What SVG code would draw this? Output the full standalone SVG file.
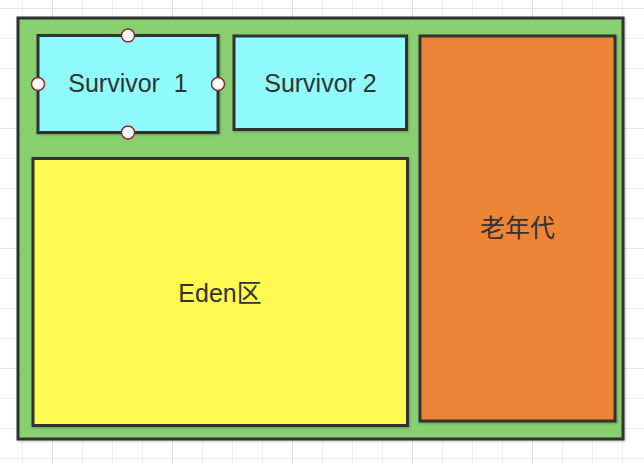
<svg xmlns="http://www.w3.org/2000/svg" width="644" height="464" viewBox="0 0 644 464">
  <defs>
    <style>
      .minor { stroke: #efefef; stroke-width: 1; }
      .major { stroke: #e2e2e2; stroke-width: 1; }
      .box { stroke: #333333; stroke-width: 3; filter: url(#shadow); }
      .label { font-family: "Liberation Sans", "Noto Sans CJK SC", sans-serif; font-size: 25px; fill: #333333; text-anchor: middle; white-space: pre; }
      .cp { fill: #ffffff; stroke: #8b2e2e; stroke-width: 1.5; }
    </style>
    <filter id="shadow" x="-5%" y="-5%" width="110%" height="110%">
      <feDropShadow dx="1" dy="1" stdDeviation="0.8" flood-color="#000000" flood-opacity="0.25"/>
    </filter>
  </defs>
  <rect x="0" y="0" width="644" height="464" fill="#ffffff"/>
  <g id="grid">
    <g class="minor">
      <path d="M22.5 0V464M52.5 0V464M82.5 0V464M112.5 0V464M142.5 0V464M172.5 0V464M202.5 0V464M232.5 0V464M262.5 0V464M292.5 0V464M322.5 0V464M352.5 0V464M382.5 0V464M412.5 0V464M442.5 0V464M472.5 0V464M502.5 0V464M532.5 0V464M562.5 0V464M592.5 0V464M622.5 0V464"/>
      <path d="M0 8.5H644M0 38.5H644M0 68.5H644M0 98.5H644M0 128.5H644M0 158.5H644M0 188.5H644M0 218.5H644M0 248.5H644M0 278.5H644M0 308.5H644M0 338.5H644M0 368.5H644M0 398.5H644M0 428.5H644M0 458.5H644"/>
    </g>
    <g class="major">
      <path d="M52.5 0V464M172.5 0V464M292.5 0V464M412.5 0V464M532.5 0V464"/>
      <path d="M0 8.5H644M0 128.5H644M0 248.5H644M0 368.5H644"/>
    </g>
  </g>
  <g id="heap">
    <rect class="box" x="18" y="18" width="605" height="421" fill="#88cf6f"/>
  </g>
  <g id="survivor1">
    <rect class="box" x="38" y="35.5" width="180" height="97" fill="#8ffbfd"/>
    <text class="label" x="128" y="92">Survivor  1</text>
  </g>
  <g id="survivor2">
    <rect class="box" x="234" y="36" width="172.5" height="93.5" fill="#8ffbfd"/>
    <text class="label" x="320.5" y="91.5">Survivor 2</text>
  </g>
  <g id="old-gen">
    <rect class="box" x="420" y="36" width="195" height="385" fill="#ee8434"/>
    <text class="label" x="517.5" y="237">老年代</text>
  </g>
  <g id="eden">
    <rect class="box" x="33" y="158.5" width="374.5" height="267" fill="#fffa50"/>
    <text class="label" x="220" y="301.5">Eden区</text>
  </g>
  <g id="connectors"/>
  <g id="connection-points">
    <circle class="cp" cx="128" cy="35.5" r="6.5"/>
    <circle class="cp" cx="128" cy="132.5" r="6.5"/>
    <circle class="cp" cx="38" cy="84" r="6.5"/>
    <circle class="cp" cx="218" cy="84" r="6.5"/>
  </g>
</svg>
